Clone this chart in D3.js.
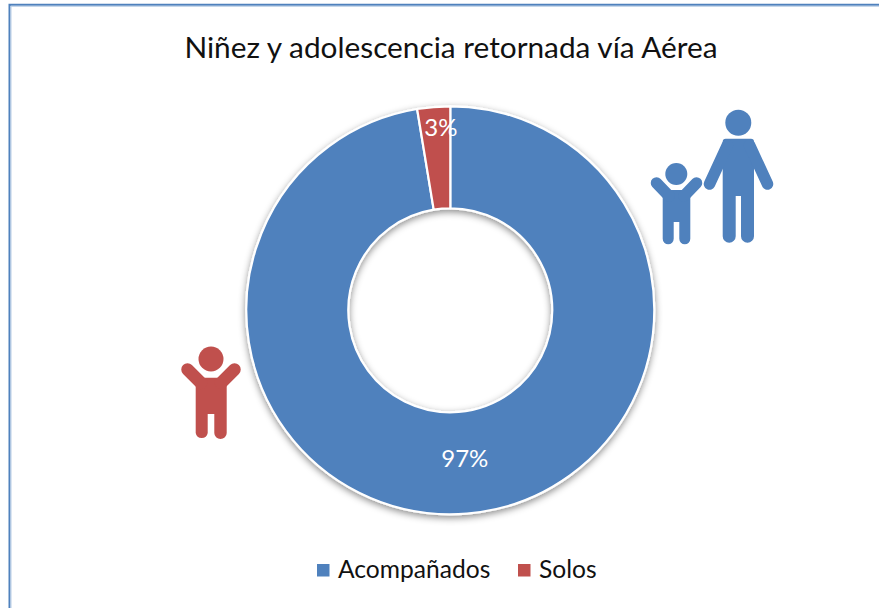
<!DOCTYPE html>
<html><head><meta charset="utf-8">
<script src="https://cdn.jsdelivr.net/npm/d3@7/dist/d3.min.js"></script>
<style>html,body{margin:0;padding:0;background:#fff;overflow:hidden}svg{display:block}text{font-family:Lato,"Open Sans",sans-serif}</style>
</head><body><svg id="c" width="879" height="608"></svg>
<script>
const titleText = "Niñez y adolescencia retornada vía Aérea";
const categories = ["Acompañados", "Solos"];
const values = [97.4, 2.6];
const colors = ["#4F81BD", "#C0504D"];

const svg = d3.select("#c");
const defs = svg.append("defs");
const f = defs.append("filter").attr("id","sh").attr("x","-10%").attr("y","-10%").attr("width","120%").attr("height","120%");
f.append("feDropShadow").attr("dx",0).attr("dy",2.5).attr("stdDeviation",3.5).attr("flood-color","#000").attr("flood-opacity",0.45);

svg.append("path").attr("d","M9.5,608V4.8H879").attr("fill","none").attr("stroke","#4F81BD").attr("stroke-width",2);
svg.append("path").attr("d","M11,608V6.3H879").attr("fill","none").attr("stroke","#B9CDE5").attr("stroke-width",1);

svg.append("text").attr("x",451).attr("y",57.5).attr("text-anchor","middle").attr("font-size",29.8).attr("fill","#111").text(titleText);

const cx = 450.3, cy = 310.3, R = 204, r = 102;
const total = d3.sum(values);
const color = d3.scaleOrdinal().domain(categories).range(colors);
const pie = d3.pie().sort(null).value(d => d.v);
const arcs = pie(categories.map((c,i) => ({c, v: values[i]})));
const arc = d3.arc().innerRadius(r).outerRadius(R);
const g = svg.append("g").attr("transform",`translate(${cx},${cy})`);
g.append("g").attr("filter","url(#sh)").selectAll("path").data(arcs).join("path")
  .attr("d",arc).attr("fill",d => color(d.data.c)).attr("stroke","#fff").attr("stroke-width",2.2).attr("stroke-linejoin","round");

const labelOffset = [[2,-5],[3,-31]];
g.selectAll("text").data(arcs).join("text")
  .attr("transform",(d,i) => { const p = arc.centroid(d); return `translate(${p[0]+labelOffset[i][0]},${p[1]+labelOffset[i][1]})`; })
  .attr("text-anchor","middle").attr("dominant-baseline","central")
  .attr("font-size",24).attr("fill","#fff")
  .text(d => d3.format(".0f")(d.data.v/total*100)+"%");

const legendX = [317, 518];
const lg = svg.append("g").selectAll("g").data(categories).join("g").attr("transform",(d,i)=>`translate(${legendX[i]},564)`);
lg.append("rect").attr("width",12.5).attr("height",12.5).attr("fill",d=>color(d));
lg.append("text").attr("x",21).attr("y",14).attr("font-size",24.6).attr("fill","#111").text(d=>d);

function figure(col, o){
  const s = svg.append("g").attr("fill",col).attr("stroke",col);
  s.append("circle").attr("cx",o.hx).attr("cy",o.hy).attr("r",o.hr).attr("stroke","none");
  const w = o.x1-o.x0, lw = (w-(o.g1-o.g0));
  s.append("path").attr("stroke","none").attr("d",
    `M${o.x0},${o.top+3}Q${o.x0},${o.top} ${o.x0+3},${o.top}H${o.x1-3}Q${o.x1},${o.top} ${o.x1},${o.top+3}V${o.bot-lw/4}`+
    `A${lw/4},${lw/4} 0 0 1 ${o.g1},${o.bot-lw/4}V${o.gt}H${o.g0}V${o.bot-lw/4}A${lw/4},${lw/4} 0 0 1 ${o.x0},${o.bot-lw/4}Z`);
  s.selectAll("line").data(o.arms).join("line").attr("x1",d=>d[0]).attr("y1",d=>d[1]).attr("x2",d=>d[2]).attr("y2",d=>d[3])
    .attr("stroke-width",o.aw).attr("stroke-linecap","round");
}
figure(colors[0],{hx:738.3,hy:122.7,hr:13,x0:722.7,x1:754,top:138.7,bot:242.7,g0:735.7,g1:741,gt:196,aw:11.5,
  arms:[[727.5,145,709.5,184],[749.5,145,767.5,184]]});
figure(colors[0],{hx:676.3,hy:174,hr:11,x0:662.7,x1:690.3,top:190,bot:244.3,g0:673.7,g1:679.3,gt:222,aw:11.5,
  arms:[[656.5,183,669,196],[696.5,183,684,196]]});
figure(colors[1],{hx:211,hy:359,hr:12.5,x0:195.7,x1:226.7,top:377.7,bot:439,g0:207.7,g1:214.3,gt:414,aw:12.5,
  arms:[[187.5,369.5,201,383],[234.5,369.5,221,383]]});
</script></body></html>
